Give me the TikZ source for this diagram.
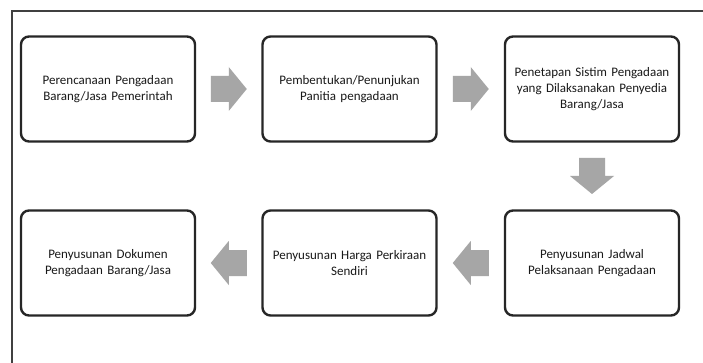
\documentclass[tikz,border=0pt]{standalone}
\usepackage{fontspec}
\setmainfont{Carlito}
\usetikzlibrary{calc}
\tikzset{
  stepbox/.style={draw=black!85, line width=2.4pt, rounded corners=8pt, fill=white,
    minimum width=174pt, minimum height=105pt, text width=165pt, align=center,
    inner sep=0pt, font=\fontsize{13}{16}\selectfont, text=black!90},
  blockarrow/.style={fill=black!35, draw=none},
  frameline/.style={draw=black!75, line width=1.2pt}
}
\newcommand\flowarrow[2]{%
  \fill[blockarrow, shift={(#1)}, rotate=#2]
    (-18,-13) -- (0,-13) -- (0,-22) -- (18,0) -- (0,22) -- (0,13) -- (-18,13) -- cycle;}
\begin{document}
\begin{tikzpicture}[x=1pt, y=-1pt]
\useasboundingbox (0,0) rectangle (703,363);
\clip (0,0) rectangle (703,363);
\fill[white] (0,0) rectangle (703,363);
\draw[frameline] (12,11) rectangle (730,390);
\node[stepbox] (b1) at (108,89) {Perencanaan Pengadaan\\Barang/Jasa Pemerintah};
\node[stepbox] (b2) at (349.5,89) {Pembentukan/Penunjukan\\Panitia pengadaan};
\node[stepbox] (b3) at (592,89) {Penetapan Sistim Pengadaan\\yang Dilaksanakan Penyedia\\Barang/Jasa};
\node[stepbox] (b4) at (592,263) {Penyusunan Jadwal\\Pelaksanaan Pengadaan};
\node[stepbox] (b5) at (349.5,263) {Penyusunan Harga Perkiraan\\Sendiri};
\node[stepbox] (b6) at (108,263) {Penyusunan Dokumen\\Pengadaan Barang/Jasa};
\coordinate (a12) at ($(b1.east)!.5!(b2.west)$);
\coordinate (a23) at ($(b2.east)!.5!(b3.west)$);
\coordinate (a34) at ($(b3.south)!.5!(b4.north)$);
\coordinate (a45) at ($(b4.west)!.5!(b5.east)$);
\coordinate (a56) at ($(b5.west)!.5!(b6.east)$);
\flowarrow{a12}{0}
\flowarrow{a23}{0}
\flowarrow{a34}{-90}
\flowarrow{a45}{180}
\flowarrow{a56}{180}
\end{tikzpicture}
\end{document}
